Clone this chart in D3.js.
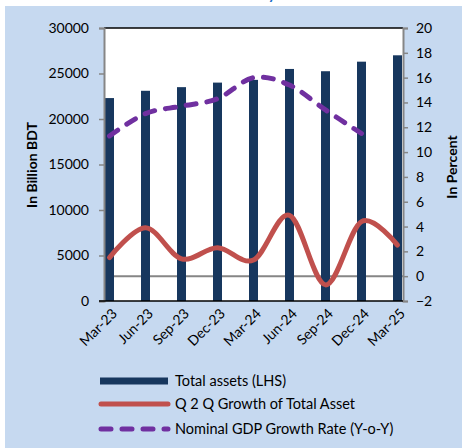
<!DOCTYPE html>
<html lang="en">
<head>
<meta charset="UTF-8">
<title>Total assets</title>
<style>
  body { margin: 0; background: #fff; }
  svg text { font-family: Lato, "Open Sans", sans-serif; fill: #000; }
</style>
</head>
<body>
<svg id="chart" width="463" height="448"></svg>
<script src="https://cdn.jsdelivr.net/npm/d3@7"></script>
<script>
// data
var quarters = ["Mar-23", "Jun-23", "Sep-23", "Dec-23", "Mar-24", "Jun-24", "Sep-24", "Dec-24", "Mar-25"];
var totalAssets = [22300, 23100, 23500, 24000, 24300, 25500, 25250, 26300, 27000];
var q2qGrowth = [1.5, 3.9, 1.4, 2.3, 1.3, 4.9, -0.7, 4.4, 2.5];
var gdpGrowth = [11.3, 13.1, 13.7, 14.3, 16.0, 15.4, 13.4, 11.5];
var leftTicks = [0, 5000, 10000, 15000, 20000, 25000, 30000];
var rightTicks = [-2, 0, 2, 4, 6, 8, 10, 12, 14, 16, 18, 20];

var svg = d3.select("#chart");
var W = 463, H = 448;
// note: "top" is reserved on window, so use pl/pr/pt/pb
var pl = 104, pr = 403, pt = 28, pb = 301;

// light blue frame
svg.append("rect").attr("x", 5).attr("y", 6).attr("width", W - 6).attr("height", H - 6)
  .attr("fill", "#c6d9f0");

// cut-off title glyph
svg.append("text").attr("x", 268).attr("y", -1).text("y")
  .style("fill", "#1f6fc5").style("font-weight", "bold").style("font-size", "15px");

svg.append("rect").attr("x", pl).attr("y", pt).attr("width", pr - pl).attr("height", pb - pt)
  .attr("fill", "#fff");

var x = d3.scalePoint().domain(quarters).range([pl + 5.5, pr - 5.5]);
var yL = d3.scaleLinear().domain([0, 30000]).range([pb, pt]);
var yR = d3.scaleLinear().domain([-2, 20]).range([pb, pt]);

// zero line of the right axis
svg.append("line").attr("x1", pl).attr("x2", pr).attr("y1", yR(0)).attr("y2", yR(0))
  .attr("stroke", "#868686").attr("stroke-width", 2);

// bars
svg.selectAll(".bar").data(totalAssets).enter().append("rect")
  .attr("class", "bar")
  .attr("x", function (d, i) { return x(quarters[i]) - 4.5; })
  .attr("width", 9)
  .attr("y", function (d) { return yL(d); })
  .attr("height", function (d) { return yL(0) - yL(d); })
  .attr("fill", "#17375e");

var smooth = d3.curveCatmullRom.alpha(0);

var pctLine = d3.line()
  .x(function (d, i) { return x(quarters[i]); })
  .y(function (d) { return yR(d); })
  .curve(smooth);
svg.append("path").datum(q2qGrowth).attr("d", pctLine)
  .attr("fill", "none").attr("stroke", "#c0504d").attr("stroke-width", 5)
  .attr("stroke-linecap", "round");

svg.append("path").datum(gdpGrowth).attr("d", pctLine)
  .attr("fill", "none").attr("stroke", "#7030a0").attr("stroke-width", 5)
  .attr("stroke-dasharray", "10,11").attr("stroke-linecap", "round");

// top border
svg.append("line").attr("x1", pl).attr("x2", pr).attr("y1", pt).attr("y2", pt)
  .attr("stroke", "#000").attr("stroke-width", 1.5);

// left axis
var gL = svg.append("g").attr("transform", "translate(" + pl + ",0)")
  .call(d3.axisLeft(yL).tickValues(leftTicks).tickSize(5).tickPadding(10).tickFormat(d3.format("d")));
// right axis
var gR = svg.append("g").attr("transform", "translate(" + pr + ",0)")
  .call(d3.axisRight(yR).tickValues(rightTicks).tickSize(5).tickPadding(8).tickFormat(d3.format("d")));
[gL, gR].forEach(function (g) {
  g.select(".domain").attr("stroke", "#868686").attr("stroke-width", 2);
  g.selectAll(".tick line").attr("stroke", "#868686").attr("stroke-width", 1.5);
  g.selectAll(".tick text").style("font-size", "14px");
});

// bottom axis line
svg.append("line").attr("x1", pl - 5).attr("x2", pr).attr("y1", pb).attr("y2", pb)
  .attr("stroke", "#000").attr("stroke-width", 1.5);

// category labels
svg.selectAll(".xlab").data(quarters).enter().append("text")
  .attr("class", "xlab")
  .attr("transform", function (d) { return "translate(" + (x(d) + 5) + "," + (pb + 10) + ") rotate(-45)"; })
  .attr("text-anchor", "end")
  .attr("dy", "0.35em")
  .style("font-size", "14px")
  .text(function (d) { return d; });

// axis titles
svg.append("text").attr("transform", "translate(37,165) rotate(-90)")
  .attr("text-anchor", "middle").style("font-weight", "bold").style("font-size", "14px")
  .text("In Billion BDT");
svg.append("text").attr("transform", "translate(457,167) rotate(-90)")
  .attr("text-anchor", "middle").style("font-weight", "bold").style("font-size", "14px")
  .text("In Percent");

// legend
var legend = [
  { name: "Total assets (LHS)", type: "bar", color: "#17375e" },
  { name: "Q 2 Q Growth of Total Asset", type: "line", color: "#c0504d" },
  { name: "Nominal GDP Growth Rate (Y-o-Y)", type: "dash", color: "#7030a0" }
];
var legY = [381, 404, 429];
legend.forEach(function (l, i) {
  var y = legY[i];
  if (l.type === "bar") {
    svg.append("rect").attr("x", 100).attr("y", y - 3.5).attr("width", 68).attr("height", 7).attr("fill", l.color);
  } else {
    svg.append("line").attr("x1", 101).attr("x2", 168).attr("y1", y).attr("y2", y)
      .attr("stroke", l.color).attr("stroke-width", 5).attr("stroke-linecap", "round")
      .attr("stroke-dasharray", l.type === "dash" ? "10,11" : null);
  }
  svg.append("text").attr("x", 175).attr("y", y).attr("dy", "0.35em")
    .style("font-size", "14.5px").text(l.name);
});
</script>
</body>
</html>
